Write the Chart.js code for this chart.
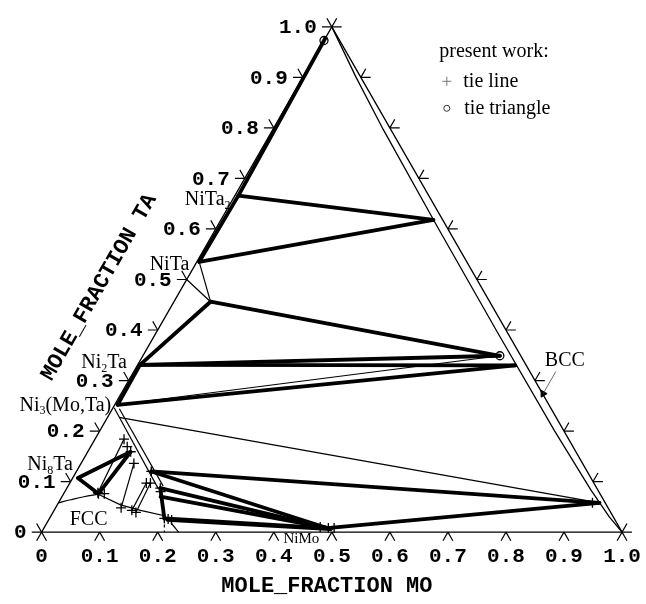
<!DOCTYPE html>
<html>
<head>
<meta charset="utf-8">
<script src="https://cdn.jsdelivr.net/npm/chart.js@4.4.0/dist/chart.umd.min.js"></script>
<style>
  html, body { margin: 0; padding: 0; background: #fff; }
  canvas { display: block; }
</style>
</head>
<body>
<canvas id="c" width="646" height="604"></canvas>
<script>
// Isothermal section Ni–Mo–Ta. Every composition is [x(Mo), x(Ta)].
const AXIS_VALUES = [0, 0.1, 0.2, 0.3, 0.4, 0.5, 0.6, 0.7, 0.8, 0.9, 1.0];
const AXIS_LABELS = ['0', '0.1', '0.2', '0.3', '0.4', '0.5', '0.6', '0.7', '0.8', '0.9', '1.0'];
const X_TITLE = 'MOLE_FRACTION MO';
const Y_TITLE = 'MOLE_FRACTION TA';

const triangleEdges = [[0, 0], [1, 0], [0, 1], [0, 0]];

// BCC solvus running along the Mo–Ta side
const bccBoundary = [[0, 1], [0.09, 0.902], [0.19, 0.797], [0.384, 0.6], [0.585, 0.398],
                     [0.784, 0.2], [0.905, 0.083], [0.963, 0.03], [1, 0]];

// calculated tie lines / tie-triangle sides (heavy)
const heavyLines = [
  [[0.006, 0.666], [0.0, 0.978]],
  [[0.006, 0.666], [0.366, 0.618]],
  [[0.366, 0.618], [0.004, 0.535]],
  [[0.004, 0.535], [0.006, 0.666]],
  [[0.063, 0.456], [0.615, 0.349]],
  [[0.063, 0.456], [0.004, 0.331]],
  [[0.004, 0.331], [0.615, 0.349]],
  [[0.004, 0.331], [0.651, 0.330]],
  [[0.004, 0.331], [0.005, 0.252]],
  [[0.005, 0.252], [0.651, 0.330]],
  [[0.009, 0.107], [0.060, 0.076], [0.074, 0.159], [0.009, 0.107]],
  [[0.129, 0.120], [0.932, 0.058]],
  [[0.129, 0.120], [0.488, 0.008]],
  [[0.161, 0.087], [0.488, 0.008]],
  [[0.170, 0.070], [0.495, 0.007]],
  [[0.198, 0.027], [0.488, 0.008]],
  [[0.205, 0.024], [0.495, 0.006]],
  [[0.161, 0.087], [0.198, 0.027]],
  [[0.488, 0.008], [0.932, 0.058]]
];

// phase boundaries and measured tie lines (light)
const lightLines = [
  [[0.004, 0.535], [0.063, 0.456]],
  [[0.0, 0.5], [0.063, 0.456]],
  [[0.005, 0.252], [0.615, 0.349]],
  [[0.020, 0.227], [0.932, 0.058]],
  [[0.002, 0.246], [0.157, 0.087]],
  [[0.012, 0.244], [0.164, 0.091]],
  [[0.058, 0.078], [0.050, 0.184]],
  [[0.113, 0.048], [0.091, 0.136]],
  [[0.134, 0.043], [0.132, 0.097]],
  [[0.143, 0.039], [0.139, 0.097]],
  [[0.213, 0.019], [0.236, 0.0]]
];

// FCC solvus (curved part next to Ni8Ta, then towards the Mo side)
const fccBoundaryUpper = [[0.0, 0.058], [0.018, 0.064], [0.038, 0.070], [0.060, 0.075]];
const fccBoundaryLower = [[0.060, 0.075], [0.109, 0.054], [0.149, 0.043], [0.193, 0.033], [0.198, 0.027]];

const dashedLines = [[[0.198, 0.027], [0.2115, 0.0]]];

// present work: tie-line end points (+) and tie-triangle corners (o)
const tieLinePoints = [
  [0.058, 0.078], [0.050, 0.184], [0.113, 0.048], [0.091, 0.136],
  [0.134, 0.043], [0.132, 0.097], [0.143, 0.039], [0.139, 0.097],
  [0.063, 0.169], [0.074, 0.159], [0.060, 0.076], [0.070, 0.076],
  [0.129, 0.120], [0.161, 0.087], [0.165, 0.080],
  [0.198, 0.027], [0.205, 0.026], [0.212, 0.024],
  [0.475, 0.010], [0.490, 0.008], [0.500, 0.008], [0.920, 0.058]
];
const tieTrianglePoints = [[0.0, 0.973], [0.615, 0.349]];

const bccArrow = [[0.727, 0.318], [0.727, 0.274]];

const TICK = 0.017;

// ---------------------------------------------------------------
const toXY = ([mo, ta]) => ({ x: mo + ta / 2, y: ta });

function tickSegments() {
  const segs = [];
  AXIS_VALUES.forEach(v => {
    segs.push([[v, 0], [v, -TICK]], [[v, 0], [v + TICK, -TICK]]);            // Mo axis
    segs.push([[0, v], [-TICK, v]], [[0, v], [-TICK, v + TICK]]);            // Ta axis
    segs.push([[1 - v, v], [1 - v + TICK, v]], [[1 - v, v], [1 - v, v + TICK]]); // Mo–Ta side
  });
  return segs;
}

function lineSet(path, width, extra) {
  return Object.assign({
    data: path.map(toXY), showLine: true, borderColor: '#000', borderWidth: width,
    pointRadius: 0, fill: false, tension: 0
  }, extra || {});
}

const datasets = [];
datasets.push(lineSet(triangleEdges, 1.3));
datasets.push(lineSet(bccBoundary, 1.3));
tickSegments().forEach(s => datasets.push(lineSet(s, 1.2)));
lightLines.forEach(s => datasets.push(lineSet(s, 1.2)));
datasets.push(lineSet(fccBoundaryUpper, 1.2, { tension: 0.4 }));
datasets.push(lineSet(fccBoundaryLower, 1.2));
dashedLines.forEach(s => datasets.push(lineSet(s, 1.2, { borderDash: [3, 3] })));
heavyLines.forEach(s => datasets.push(lineSet(s, 3.8, { borderJoinStyle: 'round', borderCapStyle: 'round' })));
datasets.push(lineSet(bccArrow, 0.8, { borderColor: '#444' }));
datasets.push({
  data: [toXY(bccArrow[1])], pointStyle: 'triangle', pointRadius: 4, rotation: 210,
  backgroundColor: '#000', borderColor: '#000', borderWidth: 1
});
datasets.push({
  data: tieLinePoints.map(toXY), pointStyle: 'cross', pointRadius: 5,
  borderColor: '#000', borderWidth: 1.3, showLine: false
});
datasets.push({
  data: tieTrianglePoints.map(toXY), pointStyle: 'circle', pointRadius: 4,
  borderColor: '#000', backgroundColor: 'rgba(255,255,255,0)', borderWidth: 1.3, showLine: false
});

// text placed at compositions (anchor = baseline point)
const phaseLabels = [
  { parts: [['NiTa'], ['2', true]], at: [0.002, 0.647], align: 'right' },
  { parts: [['NiTa']], at: [-0.005, 0.519], align: 'right' },
  { parts: [['Ni'], ['2', true], ['Ta']], at: [-0.015, 0.324], align: 'right' },
  { parts: [['Ni'], ['3', true], ['(Mo,Ta)']], at: [0.0, 0.240], align: 'right' },
  { parts: [['Ni'], ['8', true], ['Ta']], at: [-0.007, 0.122], align: 'right' },
  { parts: [['FCC']], at: [0.074, 0.014], align: 'center' },
  { parts: [['NiMo']], at: [0.458, -0.021], align: 'center', size: 15 },
  { parts: [['BCC']], at: [0.737, 0.329], align: 'center' }
];

const SERIF = '"Liberation Serif", "Times New Roman", serif';
const MONO = '"Liberation Mono", "Courier New", monospace';

function drawRich(ctx, parts, x, y, align, size) {
  const big = size + 'px ' + SERIF;
  const small = Math.round(size * 0.62) + 'px ' + SERIF;
  let w = 0;
  parts.forEach(([s, sub]) => { ctx.font = sub ? small : big; w += ctx.measureText(s).width; });
  let cx = align === 'right' ? x - w : align === 'center' ? x - w / 2 : x;
  ctx.textAlign = 'left';
  ctx.textBaseline = 'alphabetic';
  parts.forEach(([s, sub]) => {
    ctx.font = sub ? small : big;
    ctx.fillText(s, cx, y + (sub ? size * 0.18 : 0));
    cx += ctx.measureText(s).width;
  });
}

const annotations = {
  id: 'ternaryText',
  afterDatasetsDraw(chart) {
    const { ctx, scales: { x, y }, chartArea } = chart;
    const px = ([mo, ta]) => [x.getPixelForValue(mo + ta / 2), y.getPixelForValue(ta)];
    ctx.save();
    ctx.fillStyle = '#000';

    // axis numbers
    ctx.font = 'bold 21px ' + MONO;
    AXIS_VALUES.forEach((v, i) => {
      const [bx, by] = px([v, 0]);
      ctx.textAlign = 'center'; ctx.textBaseline = 'middle';
      ctx.fillText(AXIS_LABELS[i], bx, by + 25);
      const [lx, ly] = px([0, v]);
      ctx.textAlign = 'right';
      ctx.fillText(AXIS_LABELS[i], lx - 15, ly + 1);
    });

    // axis titles
    ctx.font = 'bold 22px ' + MONO;
    const [tx, ty] = px([0.545, -0.107]);
    ctx.textAlign = 'center'; ctx.textBaseline = 'middle';
    ctx.fillText(X_TITLE, tx, ty);
    const [ax, ay] = px([0, 0]);
    const [bx2, by2] = px([0, 1]);
    const ang = Math.atan2(by2 - ay, bx2 - ax);
    const [lx, ly] = px([-0.143, 0.4845]);
    ctx.save();
    ctx.translate(lx, ly);
    ctx.rotate(ang);
    ctx.fillText(Y_TITLE, 0, 0);
    ctx.restore();

    // phase names
    phaseLabels.forEach(l => {
      const [qx, qy] = px(l.at);
      drawRich(ctx, l.parts, qx, qy, l.align, l.size || 20);
    });

    // key for the experimental symbols
    const kx = chartArea.left + 433, ky = chartArea.top;
    ctx.textAlign = 'left'; ctx.textBaseline = 'alphabetic';
    ctx.font = '20px ' + SERIF;
    ctx.fillText('present work:', kx, ky + 51);
    ctx.fillText('tie line', kx + 24, ky + 81);
    ctx.fillText('tie triangle', kx + 25, ky + 108);
    ctx.strokeStyle = '#777'; ctx.lineWidth = 1;
    ctx.beginPath();
    ctx.moveTo(kx + 3, ky + 75); ctx.lineTo(kx + 12, ky + 75);
    ctx.moveTo(kx + 7.5, ky + 70.5); ctx.lineTo(kx + 7.5, ky + 79.5);
    ctx.stroke();
    ctx.strokeStyle = '#333';
    ctx.beginPath();
    ctx.arc(kx + 7.5, ky + 102, 3, 0, Math.PI * 2);
    ctx.stroke();
    ctx.restore();
  }
};

new Chart(document.getElementById('c').getContext('2d'), {
  type: 'scatter',
  data: { datasets },
  options: {
    responsive: false,
    animation: false,
    layout: { padding: 0 },
    plugins: { legend: { display: false }, tooltip: { enabled: false } },
    scales: {
      x: { type: 'linear', min: -36 / 592, max: (646 - 36) / 592, display: false },
      y: { type: 'linear', min: 537 / 516 - 604 / 516, max: 537 / 516, display: false }
    }
  },
  plugins: [annotations]
});
</script>
</body>
</html>
